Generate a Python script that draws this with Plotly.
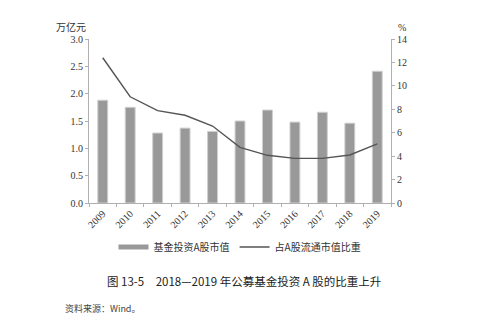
import plotly.graph_objects as go

years = ["2009", "2010", "2011", "2012", "2013", "2014", "2015", "2016", "2017", "2018", "2019"]
fund_value = [1.88, 1.75, 1.28, 1.37, 1.31, 1.50, 1.70, 1.48, 1.66, 1.46, 2.41]
share_pct = [12.4, 9.07, 7.88, 7.49, 6.57, 4.75, 4.07, 3.81, 3.81, 4.10, 5.04]

bar_name = "基金投资A股市值"
line_name = "占A股流通市值比重"

serif = "Liberation Serif, Times New Roman, serif"
cjk = "Noto Sans CJK SC, sans-serif"

fig = go.Figure()
fig.add_trace(go.Bar(
    x=years, y=fund_value, name=bar_name, showlegend=False,
    marker=dict(color="#999999", line=dict(color="#cfcfcf", width=1)),
    width=0.36,
))
fig.add_trace(go.Scatter(
    x=years, y=share_pct, name=line_name, yaxis="y2", mode="lines",
    line=dict(color="#555555", width=1.4), showlegend=False,
))
# legend entries
fig.add_trace(go.Scatter(x=[None], y=[None], mode="lines", name=bar_name,
                         line=dict(color="#999999", width=5)))
fig.add_trace(go.Scatter(x=[None], y=[None], mode="lines", name=line_name,
                         line=dict(color="#555555", width=1.4)))

axis_common = dict(
    showgrid=False, zeroline=False, showline=True, linecolor="#b0b0b0", linewidth=1,
    ticks="outside", ticklen=3, tickcolor="#b0b0b0",
    tickfont=dict(family=serif, size=10, color="#333333"),
)

fig.update_layout(
    width=480, height=324,
    margin=dict(l=89, r=89, t=39, b=121),
    plot_bgcolor="white", paper_bgcolor="white",
    bargap=0.64,
    xaxis=dict(type="category", tickangle=-45, tickson="boundaries", **axis_common),
    yaxis=dict(range=[0, 3], dtick=0.5, tickformat=".1f", **axis_common),
    yaxis2=dict(range=[0, 14], dtick=2, overlaying="y", side="right", **axis_common),
    legend=dict(orientation="h", x=0.5, xanchor="center", y=-0.268, yanchor="middle",
                font=dict(family=cjk, size=10, color="#333333"), itemwidth=30,
                bgcolor="rgba(0,0,0,0)"),
    annotations=[
        dict(text="万亿元", xref="paper", yref="paper", x=-0.06, y=1.075,
             showarrow=False, xanchor="center", yanchor="middle",
             font=dict(family=cjk, size=10, color="#333333")),
        dict(text="%", xref="paper", yref="paper", x=1.035, y=1.069,
             showarrow=False, xanchor="center", yanchor="middle",
             font=dict(family=serif, size=10, color="#333333")),
        dict(text="图 13-5　2018—2019 年公募基金投资 A 股的比重上升", xref="paper", yref="paper",
             x=0.512, y=-0.476, showarrow=False, xanchor="center", yanchor="middle",
             font=dict(family=cjk, size=11.5, color="#222222")),
        dict(text="资料来源：Wind。", xref="paper", yref="paper",
             x=-0.086, y=-0.646, showarrow=False, xanchor="left", yanchor="middle",
             font=dict(family=cjk, size=9, color="#444444")),
    ],
)

fig.write_html("out.html")
